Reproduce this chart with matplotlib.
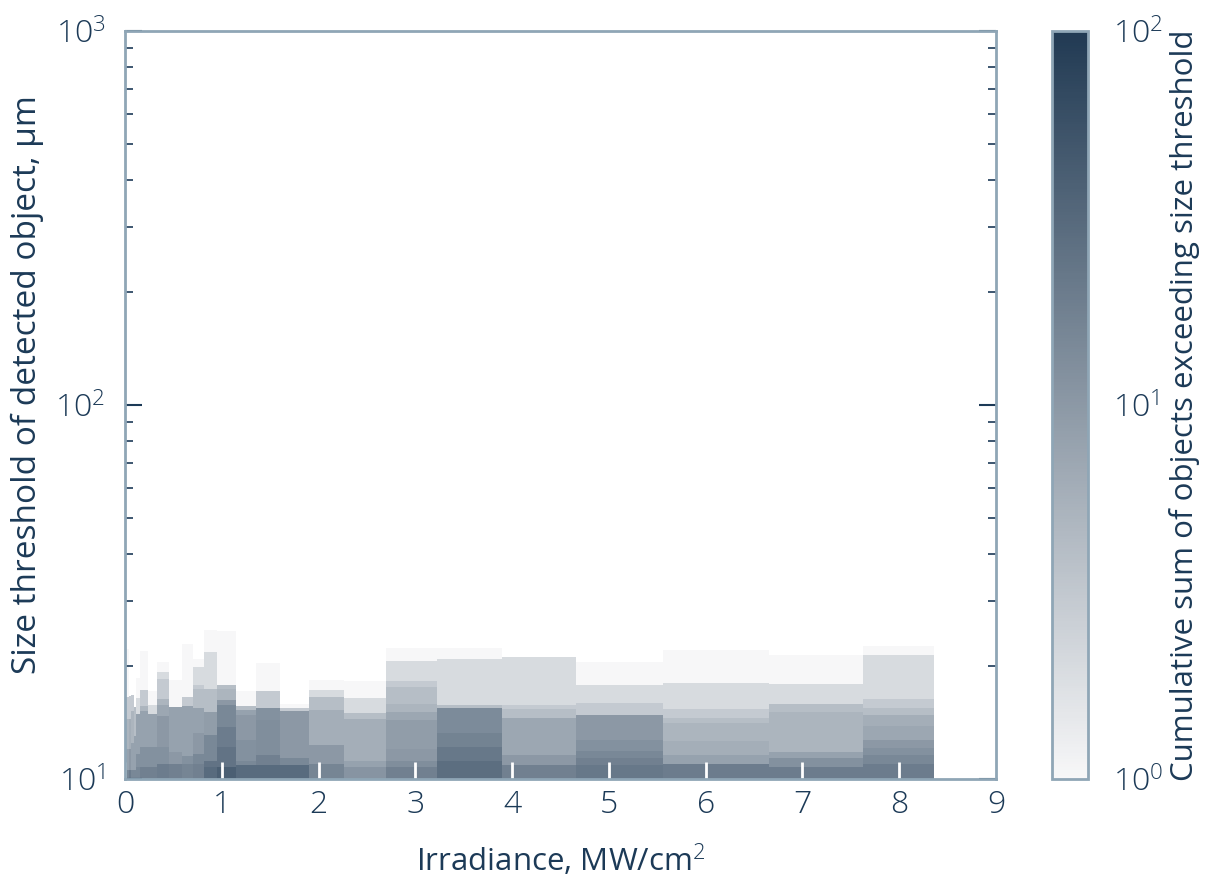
# Size threshold map vs irradiance
import matplotlib
matplotlib.use('Agg')
import matplotlib.pyplot as plt
import numpy as np
from matplotlib.colors import LinearSegmentedColormap, LogNorm
from matplotlib.ticker import LogLocator, NullFormatter

plt.rcParams['font.family'] = ['Open Sans', 'DejaVu Sans']
plt.rcParams['font.weight'] = 'light'
plt.rcParams['mathtext.fontset'] = 'custom'
plt.rcParams['mathtext.rm'] = 'Open Sans:light'
plt.rcParams['mathtext.it'] = 'Open Sans:light:italic'

navy = '#1c3a57'
frame = '#8fa6b6'

# irradiance bin edges, MW/cm2
x_edges = [0.015, 0.04, 0.06, 0.09, 0.11, 0.16, 0.235, 0.33, 0.455, 0.59, 0.705,
           0.815, 0.95, 1.145, 1.35, 1.60, 1.90, 2.26, 2.70, 3.22, 3.90, 4.66,
           5.56, 6.65, 7.63, 8.36]

# per column: upper edges of the size bands (um) and the counts inside them
col_tops = [
    [10.6, 12.0, 14.5, 16.6, 22.3],
    [10.6, 12.0, 14.5, 16.7],
    [10.6, 12.5, 15.2, 16.8],
    [10.6, 13.0, 15.6],
    [10.8, 11.7, 14.9, 16.5, 18.6],
    [10.8, 12.2, 15.2, 15.7, 17.3, 22.0],
    [10.8, 12.2, 14.9, 15.8, 17.2],
    [11.0, 12.2, 14.7, 15.8, 16.4, 18.5, 19.3, 20.5],
    [11.0, 11.8, 15.6, 18.4],
    [11.0, 11.5, 15.7, 16.6, 23.0],
    [11.0, 11.7, 13.3, 15.5, 17.4, 17.8, 19.9, 20.9],
    [10.8, 11.2, 13.1, 15.1, 17.4, 21.9, 25.0],
    [10.8, 12.2, 13.8, 15.8, 16.3, 17.4, 17.8, 24.9],
    [10.9, 11.2, 12.7, 14.8, 15.3, 15.7, 17.2],
    [10.9, 11.6, 14.4, 15.5, 17.2, 20.4],
    [10.9, 11.4, 15.2, 15.5, 15.9],
    [11.0, 12.3, 15.3, 16.6, 17.3, 18.4],
    [10.8, 11.2, 14.5, 15.0, 16.5, 18.3],
    [10.8, 11.2, 12.0, 14.4, 15.1, 15.9, 17.6, 18.3, 20.7, 22.4],
    [11.2, 12.2, 13.3, 15.5, 15.8, 20.9, 22.4],
    [10.9, 11.6, 14.6, 15.4, 15.8, 21.2],
    [10.9, 11.4, 11.9, 12.7, 14.8, 16.0, 17.8, 20.5],
    [11.0, 11.6, 12.6, 14.1, 14.6, 15.4, 18.1, 22.1],
    [10.8, 11.4, 11.8, 15.1, 15.9, 17.9, 21.4],
    [11.0, 11.6, 12.1, 12.7, 13.9, 14.8, 15.5, 16.4, 21.4, 22.7],
]
col_counts = [
    [15, 8, 5, 3, 1],
    [20, 10, 6, 3],
    [15, 8, 5, 3],
    [15, 8, 4],
    [15, 12, 8, 2, 1],
    [18, 12, 8, 5, 3, 1],
    [18, 12, 8, 2, 1],
    [20, 12, 10, 7, 5, 3, 2, 1],
    [18, 10, 8, 1],
    [16, 12, 8, 3, 1],
    [18, 15, 10, 8, 4, 3, 2, 1],
    [30, 25, 15, 9, 4, 2, 1],
    [40, 25, 20, 15, 10, 5, 4, 1],
    [30, 15, 12, 10, 8, 4, 1],
    [30, 18, 13, 12, 3, 1],
    [30, 15, 10, 3, 1],
    [16, 10, 6, 4, 2, 1],
    [11, 8, 6, 4, 2, 1],
    [18, 13, 10, 9, 7, 5, 4, 3, 2, 1],
    [28, 22, 17, 14, 4, 2, 1],
    [18, 10, 7, 4, 3, 2],
    [22, 18, 15, 12, 10, 3, 2, 1],
    [20, 8, 6, 5, 4, 3, 2, 1],
    [20, 12, 8, 5, 4, 2, 1],
    [20, 15, 12, 10, 7, 6, 4, 3, 2, 1],
]

# common grid in y, filled from the per column bands
y_edges = np.unique(np.concatenate([[10.0]] + [np.array(t) for t in col_tops]))
y_mid = 0.5 * (y_edges[:-1] + y_edges[1:])
Z = np.full((len(y_mid), len(col_tops)), np.nan)
for i, (tops, counts) in enumerate(zip(col_tops, col_counts)):
    idx = np.searchsorted(tops, y_mid)
    ok = idx < len(tops)
    Z[ok, i] = np.array(counts)[idx[ok]]

cmap = LinearSegmentedColormap.from_list('greynavy', ['#f7f7f8', '#213a53'])

fig = plt.figure(figsize=(12.1, 8.77), dpi=100)
ax = fig.add_axes([0.1033, 0.1117, 0.7198, 0.853])
cax = fig.add_axes([0.8694, 0.1117, 0.0298, 0.853])

mesh = ax.pcolormesh(x_edges, y_edges, np.ma.masked_invalid(Z), cmap=cmap,
                     norm=LogNorm(vmin=1, vmax=100))
ax.set_yscale('log')
ax.set_xlim(0, 9)
ax.set_ylim(10, 1000)
ax.set_xticks(range(10))
ax.yaxis.set_minor_locator(LogLocator(base=10, subs=np.arange(2, 10)))
ax.yaxis.set_minor_formatter(NullFormatter())

for s in ax.spines.values():
    s.set_color(frame)
    s.set_linewidth(2)

ax.tick_params(axis='x', which='both', direction='in', color='white', length=12,
               width=2, top=True, labelsize=23, labelcolor=navy, pad=7)
ax.tick_params(axis='y', which='major', direction='in', color=navy, length=12,
               width=1.5, right=True, labelsize=23, labelcolor=navy, pad=14)
ax.tick_params(axis='y', which='minor', direction='in', color=navy, length=6,
               width=1.2, right=True)

ax.set_xlabel('Irradiance, MW/cm$^2$', fontsize=22.5, color=navy, labelpad=15)
ax.set_ylabel('Size threshold of detected object, μm', fontsize=24, color=navy)
ax.yaxis.set_label_coords(-0.093, 0.527)

cbar = fig.colorbar(mesh, cax=cax)
cbar.outline.set_edgecolor(frame)
cbar.outline.set_linewidth(2)
cax.tick_params(which='major', direction='in', color='white', length=0,
                labelsize=23, labelcolor=navy, pad=18)
cax.tick_params(which='minor', length=0)
cbar.set_label('Cumulative sum of objects exceeding size threshold', fontsize=22.5,
               color=navy, labelpad=4)

fig.savefig('out.png', dpi=100, facecolor='white')
